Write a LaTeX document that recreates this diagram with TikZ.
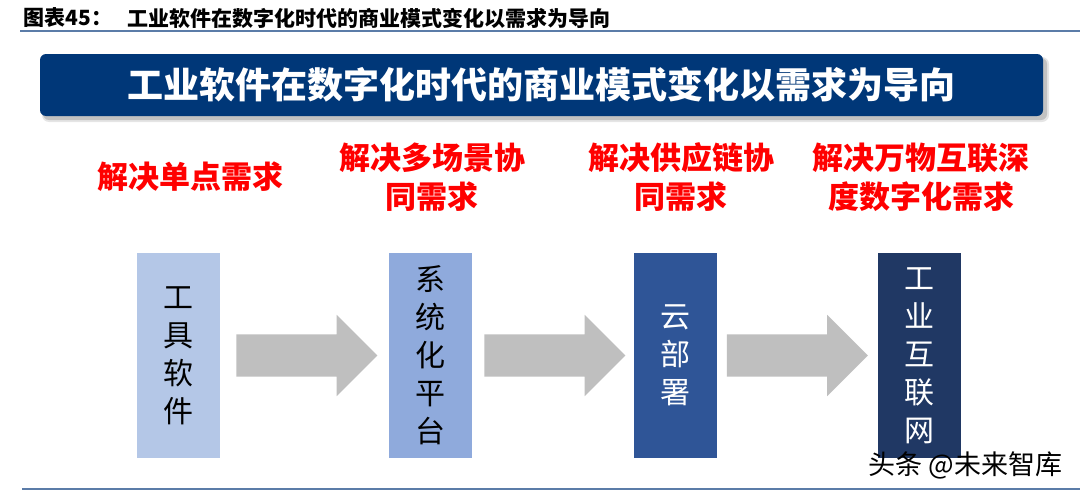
\documentclass[tikz,border=0pt]{standalone}
\usepackage{fontspec}
\newfontfamily\cjk{Noto Sans CJK SC}
\usepackage{xcolor}
\usetikzlibrary{shapes.arrows,positioning}

\definecolor{bannerblue}{RGB}{0,55,120}
\definecolor{rulecol}{RGB}{91,124,168}
\definecolor{needred}{RGB}{255,0,0}
\definecolor{arrowgray}{RGB}{191,191,191}
\definecolor{stageA}{RGB}{180,199,231}
\definecolor{stageB}{RGB}{143,170,220}
\definecolor{stageC}{RGB}{47,85,151}
\definecolor{stageD}{RGB}{32,56,100}

\begin{document}
\begin{tikzpicture}[x=1pt,y=-1pt,
    rule/.style={draw=rulecol, line width=2.5pt},
    stage/.style={minimum width=83pt, minimum height=205pt, inner sep=0pt, align=center,
      font=\cjk\fontsize{30}{38}\selectfont},
    need/.style={text=needred, align=center, font=\cjk\bfseries\fontsize{31}{39}\selectfont},
    flow/.style={single arrow, fill=arrowgray, minimum height=141pt, inner xsep=0pt,
      inner ysep=21pt, single arrow head extend=19.5pt}]
    \fill[white] (0,0) rectangle (1080,498);
    \useasboundingbox (0,0) rectangle (1080,498);

    % caption line
    \node[anchor=west, font=\cjk\bfseries\fontsize{21}{21}\selectfont] (figno) at (20,18) {图表45：};
    \node[anchor=west, font=\cjk\bfseries\fontsize{21}{21}\selectfont] (figtitle) at (124,18) {工业软件在数字化时代的商业模式变化以需求为导向};
    \draw[rule] (20,31) -- (1080,31);

    % banner with shadow
    \fill[black, opacity=0.10, rounded corners=7pt] (42,57) rectangle (1049,122);
    \fill[black, opacity=0.15, rounded corners=6pt] (43,58) rectangle (1047,120);
    \node[fill=bannerblue, rounded corners=6pt, minimum width=1003pt, minimum height=62pt,
      text=white, font=\cjk\bfseries\fontsize{36}{36}\selectfont] (banner) at (541.5,85)
      {工业软件在数字化时代的商业模式变化以需求为导向};

    % needs
    \node[need] (n1) at (190,177) {解决单点需求};
    \node[need] (n2) at (432,177) {解决多场景协\\同需求};
    \node[need] (n3) at (681,177) {解决供应链协\\同需求};
    \node[need] (n4) at (921,177) {解决万物互联深\\度数字化需求};

    % stages
    \node[stage, fill=stageA] (t1) at (178.5,355.5) {工\\具\\软\\件};
    \node[stage, fill=stageB] (t2) at (430.5,355.5) {系\\统\\化\\平\\台};
    \node[stage, fill=stageC, text=white] (t3) at (675,355.5) {云\\部\\署};
    \node[stage, fill=stageD, text=white] (t4) at (919.5,355.5) {工\\业\\互\\联\\网};

    \node[flow, right=16pt of t1] (f1) {};
    \node[flow, right=12pt of t2] (f2) {};
    \node[flow, right=10pt of t3] (f3) {};

    \node[anchor=east, font=\cjk\fontsize{27}{27}\selectfont] (mark) at (1066,465) {头条 @未来智库};
    \draw[rule] (22,489) -- (1080,489);
\end{tikzpicture}
\end{document}
